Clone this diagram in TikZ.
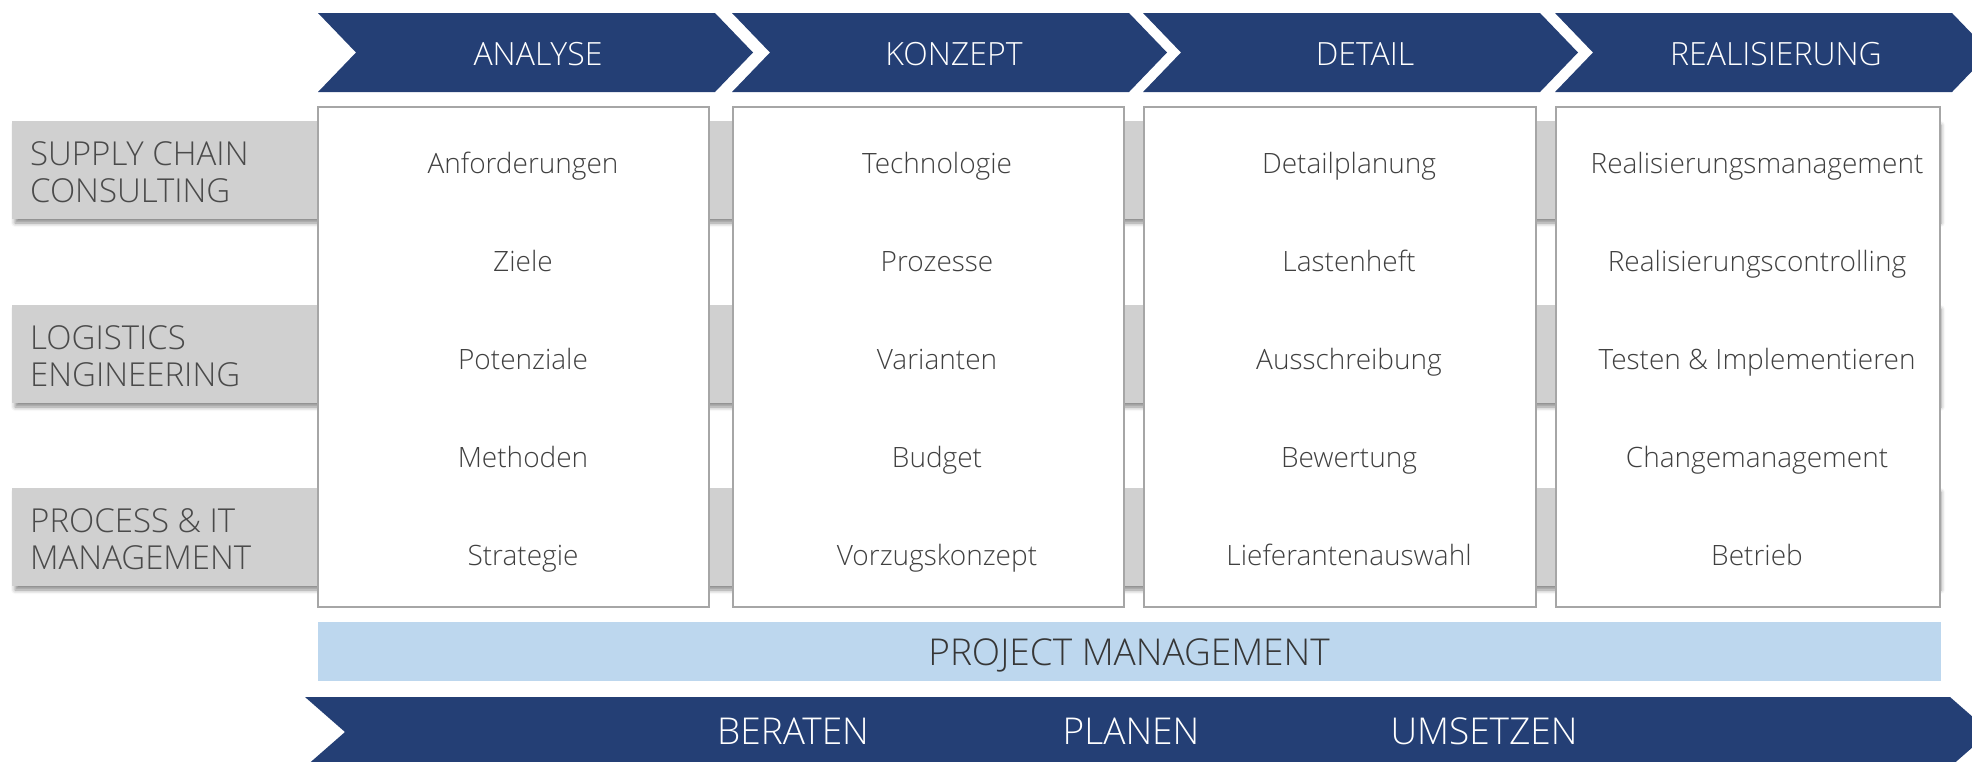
\documentclass[tikz,border=0pt]{standalone}
\usepackage{fontspec}
\setmainfont{Open Sans}[UprightFont={* Light}]
\usetikzlibrary{shadows.blur}
\definecolor{navy}{HTML}{243F75}
\definecolor{pmblue}{HTML}{BDD7EE}
\definecolor{bandgray}{HTML}{D0D0D0}
\definecolor{boxline}{HTML}{A6A6A6}
\definecolor{itemgray}{HTML}{404040}
\definecolor{labgray}{HTML}{4A4A4A}
\begin{document}
\begin{tikzpicture}[x=1pt,y=-1pt,
  chevfill/.style={fill=navy},
  chevtxt/.style={text=white,font=\fontsize{32}{38}\selectfont,anchor=base,inner sep=0pt},
  itemtxt/.style={text=itemgray,font=\fontsize{28}{34}\selectfont,anchor=base,inner sep=0pt},
  labtxt/.style={text=labgray,font=\fontsize{33}{39}\selectfont,anchor=base west,inner sep=0pt},
  pmtxt/.style={text=itemgray!85!black,font=\fontsize{37}{43}\selectfont,anchor=base,inner sep=0pt},
  bottxt/.style={text=white,font=\fontsize{37}{44}\selectfont,anchor=base,inner sep=0pt},
  bandstyle/.style={fill=bandgray,blur shadow={shadow xshift=3pt,shadow yshift=-4pt,shadow blur radius=4pt,shadow opacity=45}},
  boxstyle/.style={draw=boxline,line width=1.5pt,fill=white}]
\useasboundingbox (0,0) rectangle (1972,761);
\clip (0,0) rectangle (1972,761);
% gray row bands
\foreach \y in {121,305,488}{
  \path[bandstyle] (12,\y) rectangle (1938,\y+98);
}
\node[labtxt] (l1a) at (30,165) {SUPPLY CHAIN};
\node[labtxt] (l1b) at (30,202) {CONSULTING};
\node[labtxt] (l2a) at (30,349) {LOGISTICS};
\node[labtxt] (l2b) at (30,386) {ENGINEERING};
\node[labtxt] (l3a) at (30,532) {PROCESS \& IT};
\node[labtxt] (l3b) at (30,569) {MANAGEMENT};
% top chevrons
\foreach \x in {318,732,1143,1555}{
  \fill[chevfill] (\x,13) -- (\x+397,13) -- (\x+435,52.5) -- (\x+397,92) -- (\x,92) -- (\x+38,52.5) -- cycle;
}
\node[chevtxt] (c1) at (538,65) {ANALYSE};
\node[chevtxt] (c2) at (954,65) {KONZEPT};
\node[chevtxt] (c3) at (1365,65) {DETAIL};
\node[chevtxt] (c4) at (1776,65) {REALISIERUNG};
% boxes
\draw[boxstyle] (318,107) rectangle (709,607);
\draw[boxstyle] (733,107) rectangle (1124,607);
\draw[boxstyle] (1144,107) rectangle (1536,607);
\draw[boxstyle] (1556,107) rectangle (1940,607);
% items
\foreach \t [count=\i] in {Anforderungen,Ziele,Potenziale,Methoden,Strategie}
  \node[itemtxt] (a\i) at (523,{173+98*(\i-1)}) {\t};
\foreach \t [count=\i] in {Technologie,Prozesse,Varianten,Budget,Vorzugskonzept}
  \node[itemtxt] (b\i) at (937,{173+98*(\i-1)}) {\t};
\foreach \t [count=\i] in {Detailplanung,Lastenheft,Ausschreibung,Bewertung,Lieferantenauswahl}
  \node[itemtxt] (d\i) at (1349,{173+98*(\i-1)}) {\t};
\foreach \t [count=\i] in {Realisierungsmanagement,Realisierungscontrolling,Testen \& Implementieren,Changemanagement,Betrieb}
  \node[itemtxt] (r\i) at (1757,{173+98*(\i-1)}) {\t};
% project management
\fill[pmblue] (318,622) rectangle (1941,681);
\node[pmtxt] (pm) at (1129,665) {PROJECT MANAGEMENT};
% bottom chevron
\fill[chevfill] (305,697) -- (1950,697) -- (1990,732) -- (1950,767) -- (305,767) -- (345,732) -- cycle;
\node[bottxt] (s1) at (793,744) {BERATEN};
\node[bottxt] (s2) at (1131,744) {PLANEN};
\node[bottxt] (s3) at (1484,744) {UMSETZEN};
\end{tikzpicture}
\end{document}
